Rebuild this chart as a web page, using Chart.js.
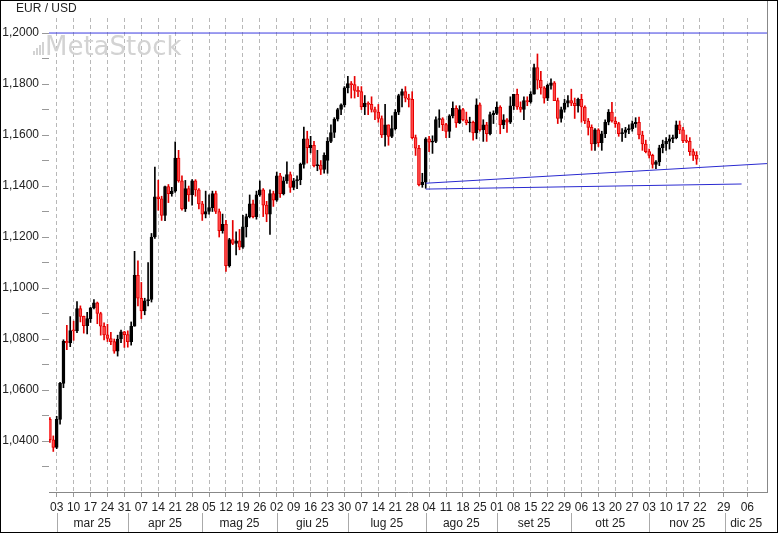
<!DOCTYPE html>
<html>
<head>
<meta charset="utf-8">
<script src="https://cdn.jsdelivr.net/npm/chart.js@4.4.1/dist/chart.umd.min.js"></script>
<style>
  html, body { margin: 0; padding: 0; background: #fff; }
  #wrap { width: 778px; height: 533px; position: relative; }
</style>
</head>
<body>
<div id="wrap"><canvas id="chart"></canvas></div>
<script>
// EUR / USD daily candles, 27 feb 2025 .. 21 nov 2025 (one row per week)
const firstDay = '2025-02-27';
const lastDay = '2025-11-21';

const openPx = [
  1.0485, 1.0405,
  1.0375, 1.0485, 1.0626, 1.0791, 1.0785,
  1.0833, 1.0832, 1.0919, 1.0889, 1.0852,
  1.0880, 1.0922, 1.0942, 1.0900, 1.0850,
  1.0816, 1.0802, 1.0790, 1.0752, 1.0800,
  1.0828, 1.0817, 1.0790, 1.0850, 1.1050,
  1.0960, 1.0910, 1.0950, 1.0955, 1.1200,
  1.1358, 1.1350, 1.1285, 1.1398, 1.1370,
  1.1380, 1.1510, 1.1420, 1.1310, 1.1390,
  1.1365, 1.1420, 1.1385, 1.1330, 1.1290,
  1.1300, 1.1315, 1.1370, 1.1300, 1.1225,
  1.1250, 1.1088, 1.1190, 1.1175, 1.1185,
  1.1160, 1.1240, 1.1280, 1.1330, 1.1280,
  1.1365, 1.1385, 1.1325, 1.1290, 1.1370,
  1.1345, 1.1440, 1.1370, 1.1420, 1.1445,
  1.1395, 1.1420, 1.1425, 1.1485, 1.1585,
  1.1550, 1.1560, 1.1480, 1.1482, 1.1465,
  1.1500, 1.1575, 1.1610, 1.1662, 1.1700,
  1.1718, 1.1785, 1.1802, 1.1798, 1.1775,
  1.1770, 1.1710, 1.1725, 1.1720, 1.1700,
  1.1690, 1.1665, 1.1600, 1.1640, 1.1595,
  1.1625, 1.1690, 1.1755, 1.1770, 1.1745,
  1.1740, 1.1590, 1.1548, 1.1405, 1.1415,
  1.1585, 1.1572, 1.1575, 1.1661, 1.1664,
  1.1641, 1.1614, 1.1675, 1.1705, 1.1648,
  1.1700, 1.1660, 1.1648, 1.1650, 1.1608,
  1.1718, 1.1620, 1.1640, 1.1605, 1.1680,
  1.1685, 1.1710, 1.1640, 1.1660, 1.1650,
  1.1715, 1.1760, 1.1710, 1.1700, 1.1735,
  1.1730, 1.1760, 1.1865, 1.1815, 1.1785,
  1.1745, 1.1795, 1.1805, 1.1735, 1.1665,
  1.1700, 1.1725, 1.1735, 1.1725, 1.1715,
  1.1740, 1.1710, 1.1655, 1.1630, 1.1565,
  1.1620, 1.1570, 1.1605, 1.1650, 1.1690,
  1.1655, 1.1645, 1.1605, 1.1610, 1.1620,
  1.1625, 1.1645, 1.1650, 1.1600, 1.1565,
  1.1535, 1.1520, 1.1485, 1.1495, 1.1550,
  1.1565, 1.1575, 1.1585, 1.1590, 1.1640,
  1.1620, 1.1578, 1.1575, 1.1535, 1.1520
];
const highPx = [
  1.0492, 1.0420,
  1.0497, 1.0630, 1.0797, 1.0854, 1.0888,
  1.0870, 1.0947, 1.0930, 1.0890, 1.0905,
  1.0924, 1.0955, 1.0945, 1.0905, 1.0863,
  1.0858, 1.0826, 1.0800, 1.0815, 1.0835,
  1.0830, 1.0832, 1.0867, 1.1144, 1.1107,
  1.1022, 1.0960, 1.1100, 1.1214, 1.1474,
  1.1423, 1.1360, 1.1400, 1.1406, 1.1395,
  1.1573, 1.1540, 1.1440, 1.1422, 1.1400,
  1.1425, 1.1425, 1.1390, 1.1340, 1.1380,
  1.1365, 1.1380, 1.1380, 1.1310, 1.1290,
  1.1265, 1.1195, 1.1265, 1.1220, 1.1230,
  1.1285, 1.1290, 1.1365, 1.1345, 1.1380,
  1.1420, 1.1390, 1.1340, 1.1385, 1.1380,
  1.1455, 1.1450, 1.1435, 1.1495, 1.1455,
  1.1430, 1.1440, 1.1490, 1.1631, 1.1615,
  1.1595, 1.1575, 1.1540, 1.1500, 1.1530,
  1.1590, 1.1640, 1.1668, 1.1705, 1.1722,
  1.1790, 1.1830, 1.1810, 1.1830, 1.1790,
  1.1790, 1.1755, 1.1730, 1.1750, 1.1710,
  1.1720, 1.1675, 1.1720, 1.1640, 1.1675,
  1.1700, 1.1760, 1.1780, 1.1790, 1.1760,
  1.1770, 1.1600, 1.1560, 1.1450, 1.1590,
  1.1595, 1.1597, 1.1671, 1.1699, 1.1668,
  1.1646, 1.1680, 1.1730, 1.1715, 1.1715,
  1.1705, 1.1690, 1.1670, 1.1655, 1.1742,
  1.1725, 1.1660, 1.1650, 1.1690, 1.1695,
  1.1730, 1.1715, 1.1680, 1.1665, 1.1750,
  1.1760, 1.1780, 1.1730, 1.1750, 1.1750,
  1.1770, 1.1878, 1.1918, 1.1850, 1.1790,
  1.1800, 1.1820, 1.1810, 1.1745, 1.1710,
  1.1740, 1.1755, 1.1780, 1.1745, 1.1745,
  1.1760, 1.1715, 1.1665, 1.1640, 1.1625,
  1.1625, 1.1615, 1.1660, 1.1700, 1.1728,
  1.1670, 1.1650, 1.1625, 1.1630, 1.1640,
  1.1655, 1.1668, 1.1670, 1.1615, 1.1580,
  1.1545, 1.1525, 1.1500, 1.1560, 1.1580,
  1.1590, 1.1600, 1.1600, 1.1655, 1.1655,
  1.1630, 1.1600, 1.1590, 1.1545, 1.1535
];
const lowPx = [
  1.0394, 1.0359,
  1.0370, 1.0466, 1.0609, 1.0758, 1.0770,
  1.0795, 1.0825, 1.0867, 1.0823, 1.0820,
  1.0865, 1.0918, 1.0860, 1.0815, 1.0796,
  1.0790, 1.0778, 1.0744, 1.0733, 1.0786,
  1.0767, 1.0768, 1.0776, 1.0850, 1.0930,
  1.0880, 1.0895, 1.0930, 1.0945, 1.1195,
  1.1305, 1.1265, 1.1264, 1.1335, 1.1360,
  1.1375, 1.1415, 1.1305, 1.1300, 1.1340,
  1.1325, 1.1360, 1.1310, 1.1265, 1.1275,
  1.1290, 1.1300, 1.1292, 1.1200, 1.1215,
  1.1065, 1.1082, 1.1170, 1.1130, 1.1150,
  1.1155, 1.1200, 1.1275, 1.1275, 1.1270,
  1.1360, 1.1280, 1.1260, 1.1210, 1.1320,
  1.1340, 1.1355, 1.1365, 1.1410, 1.1375,
  1.1385, 1.1390, 1.1405, 1.1470, 1.1490,
  1.1530, 1.1475, 1.1460, 1.1445, 1.1450,
  1.1450, 1.1570, 1.1590, 1.1655, 1.1680,
  1.1710, 1.1765, 1.1745, 1.1745, 1.1750,
  1.1700, 1.1680, 1.1680, 1.1690, 1.1660,
  1.1650, 1.1590, 1.1556, 1.1560, 1.1590,
  1.1620, 1.1680, 1.1710, 1.1730, 1.1710,
  1.1585, 1.1520, 1.1400, 1.1395, 1.1391,
  1.1535, 1.1528, 1.1570, 1.1630, 1.1617,
  1.1590, 1.1590, 1.1667, 1.1630, 1.1645,
  1.1655, 1.1640, 1.1612, 1.1580, 1.1585,
  1.1615, 1.1575, 1.1575, 1.1600, 1.1645,
  1.1680, 1.1605, 1.1625, 1.1610, 1.1645,
  1.1700, 1.1700, 1.1690, 1.1660, 1.1715,
  1.1725, 1.1760, 1.1780, 1.1760, 1.1725,
  1.1735, 1.1780, 1.1735, 1.1645, 1.1650,
  1.1690, 1.1710, 1.1715, 1.1665, 1.1690,
  1.1650, 1.1645, 1.1600, 1.1540, 1.1540,
  1.1555, 1.1540, 1.1590, 1.1640, 1.1650,
  1.1630, 1.1595, 1.1575, 1.1590, 1.1605,
  1.1615, 1.1630, 1.1585, 1.1540, 1.1530,
  1.1510, 1.1470, 1.1468, 1.1480, 1.1530,
  1.1540, 1.1545, 1.1570, 1.1585, 1.1605,
  1.1570, 1.1570, 1.1520, 1.1500, 1.1485
];
const closePx = [
  1.0405, 1.0375,
  1.0485, 1.0626, 1.0791, 1.0785, 1.0833,
  1.0832, 1.0919, 1.0889, 1.0852, 1.0880,
  1.0922, 1.0942, 1.0900, 1.0850, 1.0816,
  1.0802, 1.0790, 1.0752, 1.0800, 1.0828,
  1.0817, 1.0790, 1.0850, 1.1050, 1.0960,
  1.0910, 1.0950, 1.0955, 1.1200, 1.1358,
  1.1350, 1.1285, 1.1398, 1.1370, 1.1380,
  1.1510, 1.1420, 1.1310, 1.1390, 1.1365,
  1.1420, 1.1385, 1.1330, 1.1290, 1.1300,
  1.1315, 1.1370, 1.1300, 1.1225, 1.1250,
  1.1088, 1.1190, 1.1175, 1.1185, 1.1160,
  1.1240, 1.1280, 1.1330, 1.1280, 1.1365,
  1.1385, 1.1325, 1.1290, 1.1370, 1.1345,
  1.1440, 1.1370, 1.1420, 1.1445, 1.1395,
  1.1420, 1.1425, 1.1485, 1.1585, 1.1550,
  1.1560, 1.1480, 1.1482, 1.1465, 1.1520,
  1.1575, 1.1610, 1.1662, 1.1700, 1.1718,
  1.1785, 1.1802, 1.1798, 1.1775, 1.1770,
  1.1710, 1.1725, 1.1720, 1.1700, 1.1690,
  1.1665, 1.1600, 1.1640, 1.1595, 1.1625,
  1.1690, 1.1755, 1.1770, 1.1745, 1.1740,
  1.1590, 1.1548, 1.1405, 1.1415, 1.1585,
  1.1572, 1.1575, 1.1661, 1.1664, 1.1641,
  1.1614, 1.1675, 1.1705, 1.1648, 1.1700,
  1.1660, 1.1648, 1.1650, 1.1608, 1.1718,
  1.1620, 1.1640, 1.1605, 1.1680, 1.1685,
  1.1710, 1.1640, 1.1660, 1.1650, 1.1715,
  1.1760, 1.1710, 1.1700, 1.1735, 1.1730,
  1.1760, 1.1865, 1.1815, 1.1785, 1.1745,
  1.1795, 1.1805, 1.1735, 1.1665, 1.1700,
  1.1725, 1.1735, 1.1725, 1.1715, 1.1740,
  1.1710, 1.1655, 1.1630, 1.1565, 1.1620,
  1.1570, 1.1605, 1.1650, 1.1690, 1.1655,
  1.1645, 1.1605, 1.1610, 1.1620, 1.1625,
  1.1645, 1.1650, 1.1600, 1.1565, 1.1535,
  1.1520, 1.1485, 1.1495, 1.1550, 1.1565,
  1.1575, 1.1585, 1.1590, 1.1640, 1.1620,
  1.1578, 1.1575, 1.1535, 1.1520, 1.1505
];

// drawn lines
const resistanceLevel = 1.2000;
const upperTrend = { fromDay: '2025-08-01', fromPx: 1.1411, toSlot: 20.8, toPx: 1.1488 };
const lowerTrend = { fromDay: '2025-08-01', fromPx: 1.1388, toSlot: 13.3, toPx: 1.1408 };

// axis texts
const monthNames = ['gen', 'feb', 'mar', 'apr', 'mag', 'giu', 'lug', 'ago', 'set', 'ott', 'nov', 'dic'];
const futureTickLabels = ['22', '29', '06'];
const futureTickSlots = [1, 8, 15];      // blank slots after the last bar
const futureMonth = { label: 'dic 25', slot: 8.5 };
const emptySlots = 20.8;                 // blank space right of the last bar
const priceTicks = { min: 1.02, first: 1.03, max: 1.20, step: 0.01, label: 0.02 };

// trading-day calendar (weekdays)
const days = [];
for (let t = Date.parse(firstDay); t <= Date.parse(lastDay); t += 86400000) {
  const wd = new Date(t).getUTCDay();
  if (wd > 0 && wd < 6) days.push(new Date(t).toISOString().slice(0, 10));
}
const last = days.length - 1;

const RED = '#e60000', RED_FILL = '#ff4a4a', BLACK = '#000000';
const isDown = i => closePx[i] < openPx[i];

const bodies = days.map((d, i) => ({ x: i, y: [openPx[i], closePx[i]] }));
const wicks = days.map((d, i) => ({ x: i, y: [lowPx[i], highPx[i]] }));

const xMin = -0.27, xMax = last + emptySlots;

// x ticks: mondays + future labels
const xTickValues = [], xTickLabels = [];
days.forEach((d, i) => {
  if (new Date(d + 'T00:00:00Z').getUTCDay() === 1) { xTickValues.push(i); xTickLabels.push(d.slice(8, 10)); }
});
futureTickSlots.forEach((s, k) => { xTickValues.push(last + s); xTickLabels.push(futureTickLabels[k]); });

// month bands (only months that start inside the data)
const months = [];
days.forEach((d, i) => {
  const m = +d.slice(5, 7) - 1;
  const known = months.length && months[months.length - 1].m === m;
  if (!known && +d.slice(8, 10) <= 7) months.push({ m, start: i, label: monthNames[m] + ' ' + d.slice(2, 4) });
});
months.push({ m: 11, start: last + futureMonth.slot, label: futureMonth.label });

const axisFont = { family: 'Arial, "Liberation Sans", sans-serif', size: 12 };

const decor = {
  id: 'decor',
  beforeDatasetsDraw(chart) {
    const ctx = chart.ctx;
    ctx.save();
    // watermark
    ctx.fillStyle = '#d3d3d3';
    [[33, 51, 2, 4], [36, 48, 2, 7], [39, 45, 2, 10], [42, 42, 2, 13]].forEach(r => ctx.fillRect(r[0], r[1], r[2], r[3]));
    ctx.font = '26px "DejaVu Sans", sans-serif';
    ctx.textBaseline = 'alphabetic';
    ctx.fillText('MetaStock', 45, 55);
    ctx.restore();
  },
  afterDraw(chart) {
    const { ctx, chartArea: a, scales: { x } } = chart;
    ctx.save();
    // title
    ctx.fillStyle = '#222';
    ctx.font = '12px Arial, "Liberation Sans", sans-serif';
    ctx.textBaseline = 'alphabetic';
    ctx.textAlign = 'left';
    ctx.fillText('EUR / USD', 16, 12);
    // right edge of plot
    ctx.strokeStyle = '#888';
    ctx.lineWidth = 1;
    ctx.beginPath();
    ctx.moveTo(Math.round(a.right) + 0.5, 0);
    ctx.lineTo(Math.round(a.right) + 0.5, a.bottom);
    ctx.stroke();
    // month row
    ctx.strokeStyle = '#aaa';
    ctx.textAlign = 'center';
    ctx.fillStyle = '#222';
    months.forEach((mo, k) => {
      const x0 = x.getPixelForValue(mo.start);
      const x1 = k + 1 < months.length ? x.getPixelForValue(months[k + 1].start) : a.right;
      ctx.beginPath();
      ctx.moveTo(Math.round(x0) + 0.5, a.bottom + 21);
      ctx.lineTo(Math.round(x0) + 0.5, chart.height);
      ctx.stroke();
      ctx.fillText(mo.label, (x0 + x1) / 2, a.bottom + 35);
    });
    // outer frame
    ctx.strokeStyle = '#000';
    ctx.strokeRect(0.5, 0.5, chart.width - 1, chart.height - 1);
    ctx.restore();
  }
};

new Chart(document.getElementById('chart'), {
  type: 'bar',
  data: {
    datasets: [
      {
        type: 'line', data: [{ x: xMin, y: resistanceLevel }, { x: xMax, y: resistanceLevel }],
        borderColor: '#3a3ae0', borderWidth: 1, pointRadius: 0
      },
      {
        type: 'line',
        data: [{ x: days.indexOf(upperTrend.fromDay), y: upperTrend.fromPx }, { x: last + upperTrend.toSlot, y: upperTrend.toPx }],
        borderColor: '#2a2ad0', borderWidth: 1, pointRadius: 0
      },
      {
        type: 'line',
        data: [{ x: days.indexOf(lowerTrend.fromDay), y: lowerTrend.fromPx }, { x: last + lowerTrend.toSlot, y: lowerTrend.toPx }],
        borderColor: '#2a2ad0', borderWidth: 1, pointRadius: 0
      },
      {
        data: bodies, grouped: false, barThickness: 3, minBarLength: 1,
        borderWidth: 1, borderSkipped: false,
        backgroundColor: c => isDown(c.dataIndex) ? RED_FILL : BLACK,
        borderColor: c => isDown(c.dataIndex) ? RED : BLACK
      },
      {
        data: wicks, grouped: false, barThickness: 1, borderWidth: 0,
        backgroundColor: c => isDown(c.dataIndex) ? RED : BLACK
      }
    ]
  },
  options: {
    animation: false,
    responsive: true,
    maintainAspectRatio: false,
    devicePixelRatio: 1,
    layout: { padding: { top: 18, right: 11, left: 0, bottom: 0 } },
    plugins: { legend: { display: false }, tooltip: { enabled: false } },
    scales: {
      x: {
        type: 'linear', min: xMin, max: xMax, offset: false,
        afterFit: s => { s.height = 41; },
        afterBuildTicks: s => { s.ticks = xTickValues.map(v => ({ value: v })); },
        ticks: {
          autoSkip: false, maxRotation: 0, padding: 3, color: '#222', font: axisFont,
          callback: (v, i) => xTickLabels[i]
        },
        grid: { offset: false, color: '#b8b8b8', lineWidth: 1, tickLength: 5, tickColor: '#999' },
        border: { display: true, color: '#888', dash: [4, 3] }
      },
      y: {
        min: priceTicks.min, max: 1.2059,
        afterFit: s => { s.width = 49; },
        afterBuildTicks: s => {
          const t = [];
          for (let v = priceTicks.first; v <= priceTicks.max + 1e-9; v += priceTicks.step) t.push({ value: +v.toFixed(4) });
          s.ticks = t;
        },
        ticks: {
          padding: 3, color: '#222', font: axisFont,
          callback: v => {
            const k = Math.round(v / priceTicks.label * 1000) / 1000;
            return Number.isInteger(k) ? v.toFixed(4).replace('.', ',') : '';
          }
        },
        grid: { drawOnChartArea: false, tickLength: 7, color: '#999' },
        border: { display: false }
      }
    }
  },
  plugins: [decor]
});
</script>
</body>
</html>
